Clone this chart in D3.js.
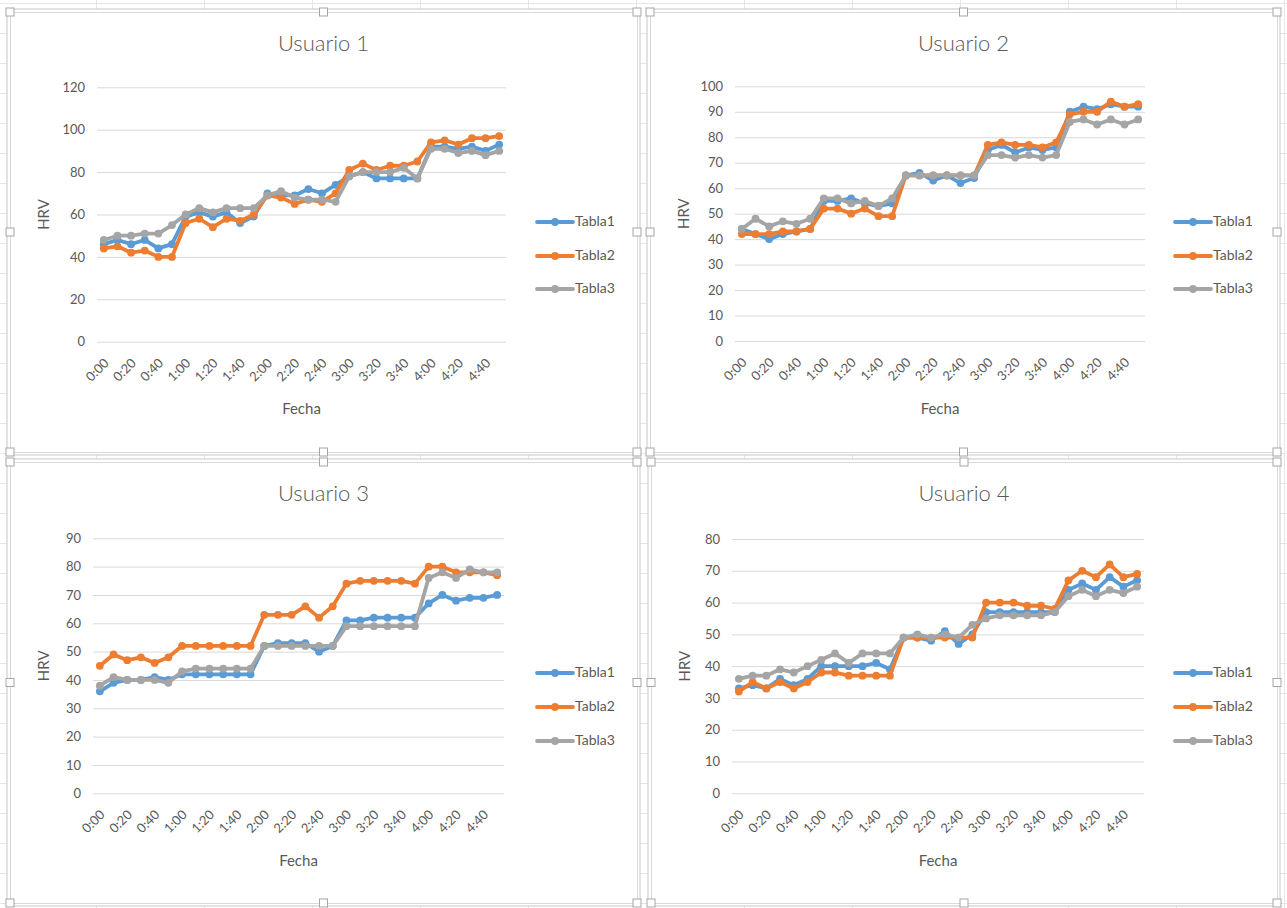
<!DOCTYPE html>
<html>
<head>
<meta charset="utf-8">
<script src="https://cdn.jsdelivr.net/npm/d3@7"></script>
<style>
  body { margin: 0; background: #fff; }
  svg { display: block; }
  text { font-family: Lato, Carlito, Calibri, "Open Sans", sans-serif; fill: #595959; }
</style>
</head>
<body>
<svg id="chart" width="1287" height="908"></svg>
<script>
// ---- data -------------------------------------------------------------
const times = ["0:00","0:10","0:20","0:30","0:40","0:50","1:00","1:10","1:20","1:30",
               "1:40","1:50","2:00","2:10","2:20","2:30","2:40","2:50","3:00","3:10",
               "3:20","3:30","3:40","3:50","4:00","4:10","4:20","4:30","4:40","4:50"];
const timeTickLabels = ["0:00","0:20","0:40","1:00","1:20","1:40","2:00","2:20",
                        "2:40","3:00","3:20","3:40","4:00","4:20","4:40"];
const seriesNames = ["Tabla1", "Tabla2", "Tabla3"];
const seriesColors = ["#5B9BD5", "#ED7D31", "#A5A5A5"];

const u1Tabla1 = [46,48,46,48,44,46,59,61,59,61,56,59,70,69,69,72,70,74,78,80,77,77,77,77,92,92,91,92,90,93];
const u1Tabla2 = [44,45,42,43,40,40,56,58,54,58,57,60,69,68,65,67,66,70,81,84,81,83,83,85,94,95,93,96,96,97];
const u1Tabla3 = [48,50,50,51,51,55,60,63,61,63,63,63,69,71,68,67,67,66,78,80,80,80,82,77,91,91,89,90,88,90];
const u1Ticks = [0,20,40,60,80,100,120];

const u2Tabla1 = [44,42,40,42,43,44,55,55,56,54,53,54,65,66,63,65,62,64,75,77,74,76,75,76,90,92,91,93,92,92];
const u2Tabla2 = [42,42,42,43,43,44,52,52,50,52,49,49,65,65,65,65,65,65,77,78,77,77,76,78,89,90,90,94,92,93];
const u2Tabla3 = [44,48,45,47,46,48,56,56,54,55,53,56,65,65,65,65,65,65,73,73,72,73,72,73,86,87,85,87,85,87];
const u2Ticks = [0,10,20,30,40,50,60,70,80,90,100];

const u3Tabla1 = [36,39,40,40,41,40,42,42,42,42,42,42,52,53,53,53,50,52,61,61,62,62,62,62,67,70,68,69,69,70];
const u3Tabla2 = [45,49,47,48,46,48,52,52,52,52,52,52,63,63,63,66,62,66,74,75,75,75,75,74,80,80,78,78,78,77];
const u3Tabla3 = [38,41,40,40,40,39,43,44,44,44,44,44,52,52,52,52,52,52,59,59,59,59,59,59,76,78,76,79,78,78];
const u3Ticks = [0,10,20,30,40,50,60,70,80,90];

const u4Tabla1 = [33,34,33,36,34,36,40,40,40,40,41,39,49,49,48,51,47,50,57,57,57,57,57,57,64,66,64,68,65,67];
const u4Tabla2 = [32,35,33,35,33,35,38,38,37,37,37,37,49,49,49,49,49,49,60,60,60,59,59,58,67,70,68,72,68,69];
const u4Tabla3 = [36,37,37,39,38,40,42,44,41,44,44,44,49,50,49,50,49,53,55,56,56,56,56,57,62,64,62,64,63,65];
const u4Ticks = [0,10,20,30,40,50,60,70,80];

// ---- layout of the four chart objects ----------------------------------
const panels = [
  { title: "Usuario 1", frame: [10, 12, 637, 452],  plot: [97, 87.3, 506, 341.7],
    ticks: u1Ticks, series: [u1Tabla1, u1Tabla2, u1Tabla3], legendX: 537, legendY: [222, 256, 289] },
  { title: "Usuario 2", frame: [650, 12, 1277, 452], plot: [735, 86.3, 1145, 341],
    ticks: u2Ticks, series: [u2Tabla1, u2Tabla2, u2Tabla3], legendX: 1175, legendY: [222, 256, 289] },
  { title: "Usuario 3", frame: [10, 462, 637, 903], plot: [93, 538.3, 504, 793.3],
    ticks: u3Ticks, series: [u3Tabla1, u3Tabla2, u3Tabla3], legendX: 537, legendY: [673, 707, 741] },
  { title: "Usuario 4", frame: [651, 462, 1277, 903], plot: [732, 539, 1144, 793.3],
    ticks: u4Ticks, series: [u4Tabla1, u4Tabla2, u4Tabla3], legendX: 1175, legendY: [673, 707, 741] }
];

const LINE_W = 3.8, MARK_R = 3.9;
const svg = d3.select("#chart");

// faint worksheet cell grid behind the charts
const sheet = svg.append("g").attr("stroke", "#E6E6E6").attr("stroke-width", 1);
for (let x = 96; x < 1287; x += 108) {
  sheet.append("line").attr("x1", x + 0.5).attr("x2", x + 0.5).attr("y1", 0).attr("y2", 908);
}
for (let y = 3; y < 908; y += 30) {
  sheet.append("line").attr("x1", 0).attr("x2", 1287).attr("y1", y + 0.5).attr("y2", y + 0.5);
}

function drawPanel(p) {
  const [fx0, fy0, fx1, fy1] = p.frame;
  const [px0, py0, px1, py1] = p.plot;
  const g = svg.append("g");

  // chart area with selection outline and sizing handles
  g.append("rect").attr("x", fx0 - 3).attr("y", fy0 - 3)
    .attr("width", fx1 - fx0 + 6).attr("height", fy1 - fy0 + 6)
    .attr("fill", "#fff").attr("stroke", "#C8C8C8");
  g.append("rect").attr("x", fx0 + 0.5).attr("y", fy0 + 0.5)
    .attr("width", fx1 - fx0).attr("height", fy1 - fy0)
    .attr("fill", "#fff").attr("stroke", "#D9D9D9");
  const hx = [fx0, (fx0 + fx1) / 2, fx1], hy = [fy0, (fy0 + fy1) / 2, fy1];
  hx.forEach((x, i) => hy.forEach((y, j) => {
    if (i === 1 && j === 1) return;
    g.append("rect").attr("x", x - 4).attr("y", y - 4).attr("width", 8).attr("height", 8)
      .attr("fill", "#fff").attr("stroke", "#A6A6A6");
  }));

  const x = d3.scalePoint().domain(times).range([px0, px1]).padding(0.5);
  const y = d3.scaleLinear().domain([0, d3.max(p.ticks)]).range([py1, py0]);

  // horizontal gridlines + value axis
  const yAxis = g.append("g").attr("transform", `translate(${px0},0)`)
    .call(d3.axisLeft(y).tickValues(p.ticks).tickSize(-(px1 - px0)).tickPadding(12));
  yAxis.select(".domain").remove();
  yAxis.selectAll(".tick line").attr("stroke", "#D9D9D9");
  yAxis.selectAll(".tick text").attr("font-size", 13).attr("fill", "#595959")
    .style("font-family", "Lato, Carlito, sans-serif");

  // category axis (every other time label, rotated)
  const xAxis = g.append("g").attr("transform", `translate(0,${py1})`)
    .call(d3.axisBottom(x).tickValues(timeTickLabels).tickSize(0).tickPadding(0));
  xAxis.select(".domain").remove();
  xAxis.selectAll(".tick text")
    .attr("font-size", 13).attr("fill", "#595959")
    .style("font-family", "Lato, Carlito, sans-serif")
    .attr("text-anchor", "end")
    .attr("dy", "0.35em")
    .attr("transform", "translate(2,19) rotate(-45)")
    .attr("y", 0).attr("x", 0);

  // titles
  g.append("text").attr("x", (fx0 + fx1) / 2).attr("y", fy0 + 34)
    .attr("text-anchor", "middle").attr("dominant-baseline", "middle")
    .attr("font-size", 22).attr("font-weight", 300).text(p.title);
  g.append("text").attr("x", (px0 + px1) / 2).attr("y", py1 + 69)
    .attr("text-anchor", "middle").attr("dominant-baseline", "middle")
    .attr("font-size", 15).text("Fecha");
  g.append("text")
    .attr("transform", `translate(${fx0 + 35},${(py0 + py1) / 2}) rotate(-90)`)
    .attr("text-anchor", "middle").attr("dominant-baseline", "middle")
    .attr("font-size", 15).text("HRV");

  // series lines with markers
  const line = d3.line().x((d, i) => x(times[i])).y(d => y(d));
  p.series.forEach((vals, s) => {
    const sg = g.append("g");
    sg.append("path").datum(vals).attr("d", line)
      .attr("fill", "none").attr("stroke", seriesColors[s]).attr("stroke-width", LINE_W)
      .attr("stroke-linejoin", "round").attr("stroke-linecap", "round");
    sg.selectAll("circle").data(vals).join("circle")
      .attr("cx", (d, i) => x(times[i])).attr("cy", d => y(d)).attr("r", MARK_R)
      .attr("fill", seriesColors[s]);
  });

  // legend
  seriesNames.forEach((name, s) => {
    const ly = p.legendY[s];
    g.append("line").attr("x1", p.legendX).attr("x2", p.legendX + 36)
      .attr("y1", ly).attr("y2", ly)
      .attr("stroke", seriesColors[s]).attr("stroke-width", LINE_W).attr("stroke-linecap", "round");
    g.append("circle").attr("cx", p.legendX + 18).attr("cy", ly).attr("r", MARK_R)
      .attr("fill", seriesColors[s]);
    g.append("text").attr("x", p.legendX + 38).attr("y", ly)
      .attr("dominant-baseline", "middle").attr("font-size", 14).text(name);
  });
}

panels.forEach(drawPanel);
</script>
</body>
</html>
